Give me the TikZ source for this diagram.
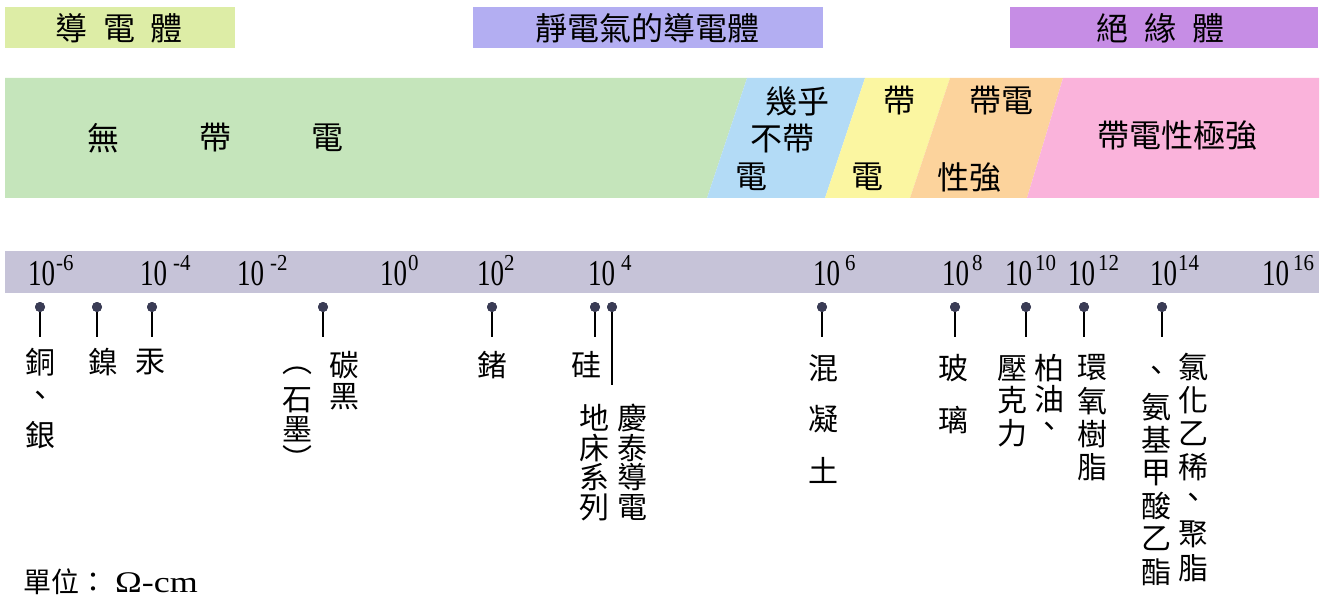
\documentclass[tikz,border=0pt]{standalone}
\usepackage{fontspec}
\setmainfont{Liberation Serif}
\newfontfamily\cjk{Noto Sans CJK TC}
\definecolor{topgreen}{HTML}{DDEDA6}
\definecolor{toplav}{HTML}{B3AEF2}
\definecolor{toppurp}{HTML}{C68DE5}
\definecolor{bgreen}{HTML}{C5E5BB}
\definecolor{bblue}{HTML}{B3DBF6}
\definecolor{byellow}{HTML}{FBF6A1}
\definecolor{borange}{HTML}{FCD39C}
\definecolor{bpink}{HTML}{FAB3DB}
\definecolor{scalebar}{HTML}{C6C3D8}
\definecolor{pindark}{HTML}{3A3C55}
\tikzset{
  toplab/.style={font=\cjk\fontsize{32}{32}\selectfont, inner sep=0},
  bandlab/.style={font=\cjk\fontsize{32}{32}\selectfont, inner sep=0},
  vlab/.style={font=\cjk\fontsize{30}{30}\selectfont, inner sep=0},
  pinhead/.style={circle, fill=pindark, minimum size=10pt, inner sep=0},
  pinline/.style={draw=black, line width=1.8pt},
  numlab/.style={inner sep=0, anchor=base west},
  suplab/.style={inner sep=0, anchor=base west},
}
\newcommand\vcol[5]{%
  \foreach \c [count=\k] in {#5} {\node[vlab] (#1-\k) at (#2, {#3+(\k-1)*#4}) {\c};}}
\begin{document}
\begin{tikzpicture}[x=1pt,y=-1pt]
\useasboundingbox (0,0) rectangle (1326,599);
% top category boxes
\fill[topgreen] (5,7) rectangle (235,48);
\fill[toplav] (473,7) rectangle (823,48);
\fill[toppurp] (1010,7) rectangle (1318,48);
\node[toplab] (t1) at (119,28) {導\hspace{16pt}電\hspace{16pt}體};
\node[toplab] (t2) at (647,28) {靜電氣的導電體};
\node[toplab] (t3) at (1160,28) {絕\hspace{16pt}緣\hspace{16pt}體};
% charge band
\fill[bgreen] (5,78) -- (747,78) -- (707,198) -- (5,198) -- cycle;
\fill[bblue] (747,78) -- (865,78) -- (825,198) -- (707,198) -- cycle;
\fill[byellow] (865,78) -- (950,78) -- (910,198) -- (825,198) -- cycle;
\fill[borange] (950,78) -- (1063,78) -- (1027,198) -- (910,198) -- cycle;
\fill[bpink] (1063,78) -- (1319,78) -- (1319,198) -- (1027,198) -- cycle;
\node[bandlab] (b1) at (103,138) {無};
\node[bandlab] (b2) at (215,138) {帶};
\node[bandlab] (b3) at (327,138) {電};
\node[bandlab] (b4) at (797,101) {幾乎};
\node[bandlab] (b5) at (782,139) {不帶};
\node[bandlab] (b6) at (751,177) {電};
\node[bandlab] (b7) at (899,101) {帶};
\node[bandlab] (b8) at (867,177) {電};
\node[bandlab] (b9) at (1001,101) {帶電};
\node[bandlab] (b10) at (969,177) {性強};
\node[bandlab] (b11) at (1177,135) {帶電性極強};
% scale bar
\fill[scalebar] (5,251) rectangle (1319,293);
\foreach \l/\g/\s [count=\i] in {28/1/-6,140/6/-4,237/6/-2,380/1/0,477/0/2,588/6/4,813/5/6,942/3/8,1005/3/10,1068/3/12,1150/1/14,1262/4/16} {
  \node[numlab] (n\i) at (\l,285) {\scalebox{1}[1.35]{\fontsize{27}{27}\selectfont 10}};
  \node[suplab] (s\i) at ({\l+27+\g},270) {\scalebox{1.1}[1.2]{\fontsize{19}{19}\selectfont \s}};
}
% pins
\foreach \x/\len [count=\i] in {40/30,97/30,152/30,323/30,492/30,595/30,612/78,822/30,955/30,1026/30,1084/30,1162/30} {
  \node[pinhead] (p\i) at (\x,307) {};
  \coordinate (q\i) at (\x,{307+\len});
  \draw[pinline] (p\i.south) -- (q\i);
  \node[pinhead] at (p\i) {};
}
% labels
\vcol{cu}{40}{362}{36.5}{銅,、,銀}
\vcol{ni}{103}{362}{32}{鎳}
\vcol{hg}{150}{362}{32}{汞}
\vcol{cb}{344}{365}{32}{碳,黑}
\vcol{gr}{297}{371}{29}{︵,石,墨,︶}
\vcol{ge}{492}{365}{32}{鍺}
\vcol{si}{586}{365}{32}{硅}
\vcol{fl}{594}{418}{29.7}{地,床,系,列}
\vcol{ct}{632}{418}{29.7}{慶,泰,導,電}
\vcol{co}{823}{368}{51}{混,凝,土}
\vcol{gl}{953}{368}{52}{玻,璃}
\vcol{ac}{1012}{368}{32.5}{壓,克,力}
\vcol{as}{1049}{368}{31}{柏,油,、}
\vcol{ep}{1092}{368}{33}{環,氧,樹,脂}
\vcol{pu}{1156}{374}{33}{、,氨,基,甲,酸,乙,酯}
\vcol{pv}{1193}{367}{33.5}{氯,化,乙,稀,、,聚,脂}
% unit
\node[inner sep=0, anchor=base west, font=\cjk\fontsize{28}{28}\selectfont] (unit) at (23,592) {單位：};
\node[inner sep=0, anchor=base west] (ohm) at (115,592) {\scalebox{1.2}[1]{\fontsize{30}{30}\selectfont Ω-cm}};
\end{tikzpicture}
\end{document}
